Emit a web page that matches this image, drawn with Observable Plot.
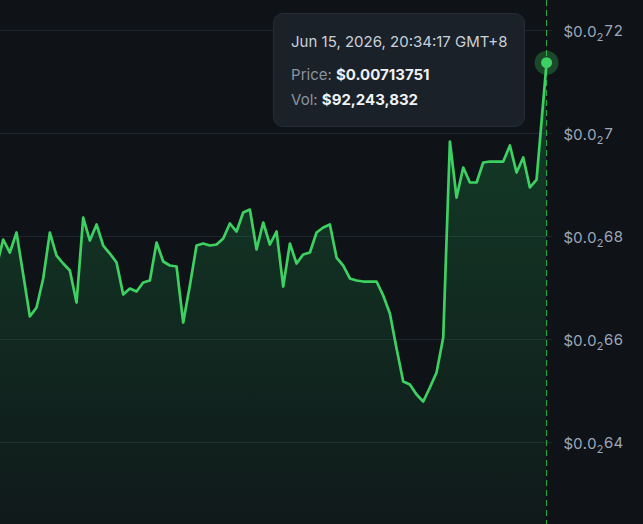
<!DOCTYPE html>
<html><head><meta charset="utf-8">
<script src="https://cdn.jsdelivr.net/npm/d3@7"></script>
<script src="https://cdn.jsdelivr.net/npm/@observablehq/plot@0.6"></script>
<style>
html,body{margin:0;padding:0;background:#0f1217;}
#wrap{position:relative;width:643px;height:524px;overflow:hidden;font-family:Inter,"Noto Sans",sans-serif;}
#wrap svg{position:absolute;left:0;top:0;}
.tip{position:absolute;box-sizing:border-box;width:252px;height:114px;background:#1b2129;border:1px solid #252c35;border-radius:10px;font-size:15px;}
.tip div{position:absolute;left:17px;line-height:20px;white-space:nowrap;}
.lab{color:#8b949e;}
.val{color:#eef1f4;font-weight:700;}
</style></head><body><div id="wrap"></div>
<script>
// price series (USD), oldest first; last entry is the hovered point
const prices = [
0.0067418,0.0067942,0.0067689,0.0068078,0.0067262,0.0066447,0.0066621,0.0067185,0.0068078,0.0067631,
0.0067476,0.0067340,0.0066718,0.0068369,0.0067922,0.0068233,0.0067825,0.0067670,0.0067495,0.0066874,
0.0066990,0.0066932,0.0067107,0.0067146,0.0067884,0.0067515,0.0067437,0.0067418,0.0066330,0.0067049,
0.0067825,0.0067864,0.0067825,0.0067845,0.0067961,0.0068253,0.0068097,0.0068466,0.0068524,0.0067748,
0.0068272,0.0067845,0.0068097,0.0067029,0.0067864,0.0067476,0.0067651,0.0067689,0.0068078,0.0068175,
0.0068233,0.0067592,0.0067437,0.0067185,0.0067146,0.0067126,0.0067126,0.0067126,0.0066854,0.0066505,
0.0065825,0.0065185,0.0065126,0.0064932,0.0064796,0.0065068,0.0065359,0.0066039,0.0069845,0.0068757,
0.0069340,0.0069049,0.0069049,0.0069437,0.0069456,0.0069456,0.0069456,0.0069767,0.0069243,0.0069534,
0.0068952,0.0069107,0.00713751
];
// sample slots (regular interval, last sample arrives later)
const slots = d3.range(-1, 81).concat([81.5]);
const yTicks = [0.0064, 0.0066, 0.0068, 0.0070, 0.0072];
const tipDate = "Jun 15, 2026, 20:34:17 GMT+8";
const tipPrice = "$0.00713751";
const tipVol = "$92,243,832";

const data = prices.map((p, i) => ({x: slots[i], p}));
const last = data[data.length - 1];
const yMin = 0.0062408, yMax = 0.0072583;
const green = "#3dd162";

const sig = d => d.toFixed(4).slice(4).replace(/0+$/, "");
const fmt = d => "$0.0\u2082" + sig(d);

const defs = () => {
  const g = d3.create("svg:defs");
  const lg = g.append("linearGradient").attr("id", "areaGrad").attr("x1", 0).attr("y1", 0).attr("x2", 0).attr("y2", 1);
  lg.append("stop").attr("offset", "0%").attr("stop-color", "#22c55e").attr("stop-opacity", 0.25);
  lg.append("stop").attr("offset", "100%").attr("stop-color", "#22c55e").attr("stop-opacity", 0.04);
  return g.node();
};

const plot = Plot.plot({
  width: 643, height: 524,
  marginLeft: 0, marginRight: 91, marginTop: 0, marginBottom: 0,
  style: {background: "transparent", fontFamily: "Inter, 'Noto Sans', sans-serif", fontSize: "15px", overflow: "visible"},
  x: {domain: [-0.405, 82.39], axis: null},
  y: {domain: [yMin, yMax], axis: null},
  marks: [
    defs,
    Plot.gridY(yTicks, {stroke: "#1f262f", strokeOpacity: 1, strokeWidth: 1}),
    Plot.axisY(yTicks, {anchor: "right", tickSize: 0, tickPadding: 11, tickFormat: fmt, fill: "#9ca8ba", fontSize: 15, label: null}),
    Plot.areaY(data, {x: "x", y1: yMin, y2: "p", fill: "url(#areaGrad)", clip: true}),
    Plot.ruleX([last], {x: "x", stroke: "#2ea043", strokeDasharray: "6,4", strokeWidth: 1.2}),
    Plot.lineY(data, {x: "x", y: "p", stroke: green, strokeWidth: 2.7, strokeLinejoin: "round", clip: true}),
    Plot.dot([last], {x: "x", y: "p", r: 12, fill: green, fillOpacity: 0.28, stroke: "none"}),
    Plot.dot([last], {x: "x", y: "p", r: 5.5, fill: green, stroke: "none"})
  ]
});

// render the "₂" of each tick label as a real subscript
d3.select(plot).selectAll("[aria-label='y-axis tick label'] text").each(function() {
  const t = d3.select(this);
  const s = t.text();
  const k = s.indexOf("\u2082");
  if (k < 0) return;
  t.text(null);
  t.append("tspan").attr("dy", "2").text(s.slice(0, k));
  t.append("tspan").attr("dy", "0.3em").attr("font-size", "11px").text("2");
  t.append("tspan").attr("dy", "-0.3em").text(s.slice(k + 1));
});

const wrap = document.getElementById("wrap");
wrap.appendChild(plot);

const px = plot.scale("x").apply(last.x);
const tip = document.createElement("div");
tip.className = "tip";
tip.style.left = (px - 21 - 252) + "px";
tip.style.top = "13px";
tip.innerHTML =
  `<div style="top:18px;color:#c9d1db">${tipDate}</div>` +
  `<div style="top:51px"><span class="lab">Price: </span><span class="val">${tipPrice}</span></div>` +
  `<div style="top:76px"><span class="lab">Vol: </span><span class="val">${tipVol}</span></div>`;
wrap.appendChild(tip);
</script>
</body></html>
